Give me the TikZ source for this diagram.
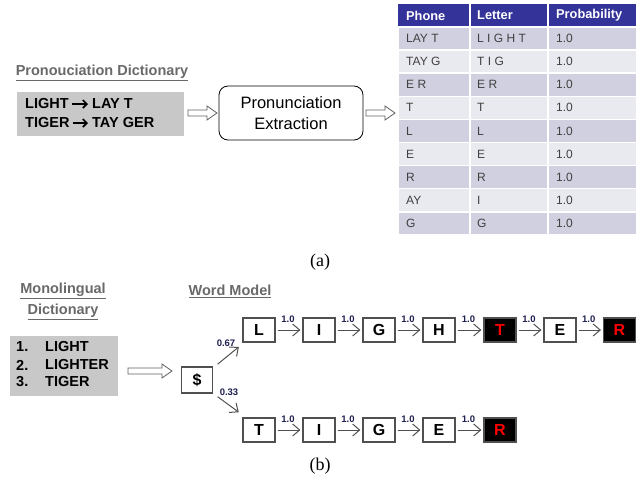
\documentclass[tikz,border=0pt]{standalone}
\usepackage{fontspec}
\setmainfont{Liberation Sans}
\newfontfamily\capfont{Liberation Serif}
\usetikzlibrary{arrows.meta,calc}
\definecolor{hdrblue}{RGB}{51,51,153}
\definecolor{rowdark}{RGB}{208,208,224}
\definecolor{rowlight}{RGB}{233,233,240}
\definecolor{celltext}{RGB}{64,64,64}
\definecolor{boxgray}{RGB}{200,200,200}
\definecolor{titlegray}{RGB}{105,105,105}
\definecolor{edgegray}{RGB}{80,80,80}
\definecolor{problabel}{RGB}{30,30,80}
\newcommand\blockarrow[3]{%
  \draw[blockarr] (#1,#3-3) -- (#2-10,#3-3) -- (#2-10,#3-7) -- (#2,#3)
    -- (#2-10,#3+7) -- (#2-10,#3+3) -- (#1,#3+3) -- cycle;}
\begin{document}
\begin{tikzpicture}[x=1pt,y=-1pt,
  title/.style={font=\fontsize{14.5}{17}\selectfont\bfseries, text=titlegray, inner sep=1pt},
  dictline/.style={font=\fontsize{14.5}{17}\selectfont\bfseries, anchor=west, inner sep=0pt},
  graybox/.style={fill=boxgray, anchor=north west, inner sep=0pt},
  maps/.style={line width=1.7pt, -{Straight Barb[length=4pt,width=8pt,line width=1.7pt]}, shorten <=3pt, shorten >=4pt},
  blockarr/.style={draw=edgegray!90, fill=white, line width=0.8pt, line join=miter},
  hdr/.style={font=\fontsize{12.8}{15}\selectfont\bfseries, text=white, anchor=west, inner sep=0pt},
  cell/.style={font=\fontsize{12}{14}\selectfont, text=celltext, anchor=west, inner sep=0pt},
  state/.style={draw=edgegray, line width=1.2pt, minimum width=32, minimum height=24, inner sep=0pt,
    font=\fontsize{16}{18}\selectfont\bfseries},
  final/.style={state, fill=black, text=red},
  trans/.style={draw=edgegray, line width=1pt, -{Straight Barb[length=7pt,width=12pt]}, shorten <=2pt, shorten >=2pt},
  prob/.style={font=\fontsize{9.5}{11}\selectfont\bfseries, text=problabel, inner sep=1pt},
  caption/.style={font=\capfont\fontsize{18}{21}\selectfont}
]
\useasboundingbox (0,0) rectangle (636,479);

% ---------- (a) pronunciation extraction ----------
\node[title] (pdtitle) at (102,73) {\underline{Pronouciation Dictionary}};
\node[graybox, minimum width=167, minimum height=44] (pdict) at (17,92) {};
\node[dictline] (pd1l) at (25,104) {LIGHT};
\node[dictline] (pd1r) at (92,104) {LAY T};
\node[dictline] (pd2l) at (25,123) {TIGER};
\node[dictline] (pd2r) at (92,123) {TAY GER};
\draw[maps] (pd1l.east) -- (pd1r.west);
\draw[maps] (pd2l.east) -- (pd2r.west);

\node[draw=black, rounded corners=9pt, line width=0.8pt, minimum width=144, minimum height=54,
  align=center, font=\fontsize{16.5}{21}\selectfont] (extr) at (291,113) {Pronunciation\\Extraction};

\blockarrow{188}{217}{113}
\blockarrow{366}{395}{113}

% table
\fill[hdrblue] (398,4) rectangle (636,27);
\draw[white, line width=1.5pt] (470,4) -- (470,27) (548,4) -- (548,27);
\node[hdr] (hphone) at (406,15.5) {Phone};
\node[hdr] (hletter) at (477,15.5) {Letter};
\node[hdr] (hprob) at (556,15.5) {Probability};
\foreach \ph/\le [count=\i] in {LAY T/L I G H T, TAY G/T I G, E R/E R, T/T, L/L, E/E, R/R, AY/I, G/G} {
  \pgfmathsetmacro\ytop{27+(\i-1)*23.1}
  \pgfmathsetmacro\ybot{\ytop+23.1}
  \pgfmathsetmacro\ymid{\ytop+11.55}
  \pgfmathparse{mod(\i,2)==1 ? "rowdark" : "rowlight"}
  \edef\rc{\pgfmathresult}
  \draw[white, line width=1.5pt, fill=\rc] (398,\ytop) rectangle (470,\ybot);
  \draw[white, line width=1.5pt, fill=\rc] (470,\ytop) rectangle (548,\ybot);
  \draw[white, line width=1.5pt, fill=\rc] (548,\ytop) rectangle (637,\ybot);
  \node[cell] (ph\i) at (406,\ymid) {\ph};
  \node[cell] (le\i) at (477,\ymid) {\le};
  \node[cell] (pr\i) at (556,\ymid) {1.0};
}

\node[caption] (capa) at (320,262) {(a)};

% ---------- (b) word model ----------
\node[title] (mdtitle1) at (63,291) {\underline{Monolingual}};
\node[title] (mdtitle2) at (63,312) {\underline{Dictionary}};
\node[title] (wmtitle) at (230,291) {\underline{Word Model}};

\node[graybox, minimum width=108, minimum height=60] (mdict) at (10,336) {};
\node[dictline] (n1) at (16,347) {1.};
\node[dictline] (n2) at (16,365) {2.};
\node[dictline] (n3) at (16,382) {3.};
\node[dictline] (w1) at (45,347) {LIGHT};
\node[dictline] (w2) at (45,365) {LIGHTER};
\node[dictline] (w3) at (45,382) {TIGER};

\blockarrow{128}{172}{371}

\node[state, minimum width=31, minimum height=26] (s0) at (197,380) {\$};

\node[state] (a1) at (259,330) {L};
\node[state] (a2) at (319,330) {I};
\node[state] (a3) at (379,330) {G};
\node[state] (a4) at (439,330) {H};
\node[final] (a5) at (500,330) {T};
\node[state] (a6) at (560,330) {E};
\node[final] (a7) at (619.5,330) {R};

\node[state] (b1) at (259,430) {T};
\node[state] (b2) at (319,430) {I};
\node[state] (b3) at (379,430) {G};
\node[state] (b4) at (439,430) {E};
\node[final] (b5) at (500,430) {R};

\draw[trans] (s0.north east) ++(3,-1) coordinate (u0) -- ($(a1.south west)+(-2,3)$) coordinate (u1);
\node[prob] (p067) at (226,343) {0.67};
\draw[trans] (s0.south east) ++(3,2) coordinate (d0) -- ($(b1.north west)+(-2,-4)$) coordinate (d1);
\node[prob] (p033) at (229,392) {0.33};

\foreach \s/\t in {a1/a2, a2/a3, a3/a4, a4/a5, a5/a6, a6/a7, b1/b2, b2/b3, b3/b4, b4/b5} {
  \draw[trans] (\s.east) -- node[prob, above=6pt, xshift=-1pt] {1.0} (\t.west);
}

\node[caption] (capb) at (320,466) {(b)};
\end{tikzpicture}
\end{document}
